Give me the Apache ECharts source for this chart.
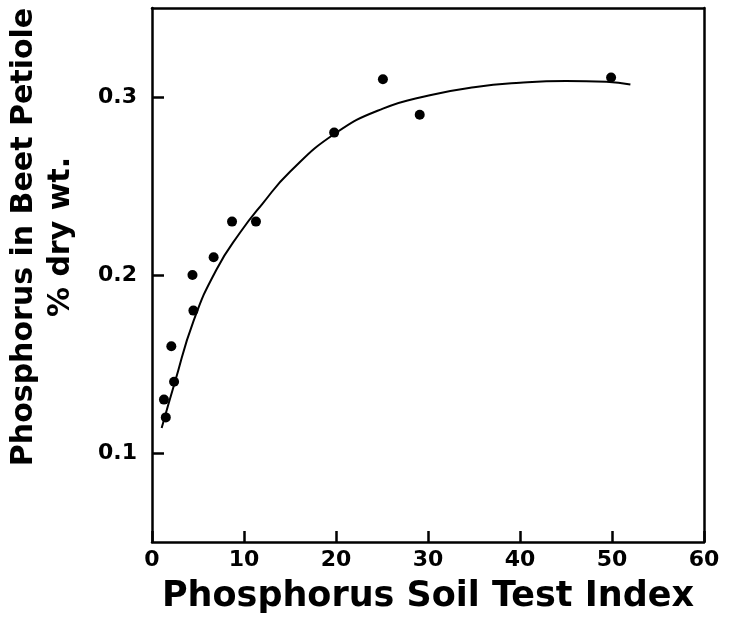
<!DOCTYPE html>
<html>
<head>
<meta charset="utf-8">
<script src="https://cdn.jsdelivr.net/npm/echarts@6/dist/echarts.min.js"></script>
<style>
html,body{margin:0;padding:0;background:#fff;}
#chart{width:741px;height:624px;}
</style>
</head>
<body>
<div id="chart"></div>
<script>
// Observed points
var pointX = [1.3, 1.5, 2.1, 2.4, 4.4, 4.5, 6.7, 8.7, 11.3, 19.8, 25.1, 29.1, 49.9];
var pointY = [0.130, 0.120, 0.160, 0.140, 0.200, 0.180, 0.210, 0.230, 0.230, 0.280, 0.310, 0.290, 0.311];
// Fitted curve
var curveX = [1.05, 2.5, 4.5, 7.0, 9.6, 12.0, 15.0, 19.9, 25.1, 30.2, 35.0, 40.0, 45.0, 49.4, 52.0];
var curveY = [0.114, 0.140, 0.174, 0.203, 0.224, 0.240, 0.258, 0.2795, 0.2935, 0.301, 0.3055, 0.308, 0.309, 0.3085, 0.307];
var xTicks = [0, 10, 20, 30, 40, 50, 60];
var yTicks = [0.1, 0.2, 0.3];
var xTitle = 'Phosphorus Soil Test Index';
var yTitle1 = 'Phosphorus in Beet Petiole';
var yTitle2 = '% dry wt.';

var chart = echarts.init(document.getElementById('chart'));
var font = 'DejaVu Sans';
var lineBlack = {show: true, onZero: false, lineStyle: {color: '#000', width: 2.5}};
chart.setOption({
  animation: false,
  backgroundColor: '#fff',
  grid: {left: 152, right: 37, top: 8, bottom: 82},
  xAxis: [{
    type: 'value', min: 0, max: 60, interval: 10,
    splitLine: {show: false},
    axisLine: lineBlack,
    axisTick: {show: true, inside: true, length: 11, lineStyle: {color: '#000', width: 2.5}},
    axisLabel: {color: '#000', fontFamily: font, fontWeight: 'bold', fontSize: 22, margin: 7,
      formatter: function(v){ return String(v); }},
    name: xTitle, nameLocation: 'middle', nameGap: 37,
    nameTextStyle: {color: '#000', fontFamily: font, fontWeight: 'bold', fontSize: 35}
  }, {
    type: 'value', position: 'top', min: 0, max: 60, interval: 10,
    splitLine: {show: false}, axisLine: lineBlack, axisTick: {show: false}, axisLabel: {show: false}
  }],
  yAxis: [{
    type: 'value', min: 0.05, max: 0.35, interval: 0.05,
    splitLine: {show: false},
    axisLine: lineBlack,
    axisTick: {show: true, inside: true, length: 12, lineStyle: {color: '#000', width: 2.5}, customValues: yTicks},
    axisLabel: {color: '#000', fontFamily: font, fontWeight: 'bold', fontSize: 22, margin: 15, customValues: yTicks,
      formatter: function(v){ return v.toFixed(1); }},
    name: '{a|' + yTitle1 + '}\n{b|' + yTitle2 + '}', nameLocation: 'middle', nameGap: 72, nameRotate: 90,
    nameTextStyle: {color: '#000', fontFamily: font, fontWeight: 'bold', padding: [0, 0, 0, 76],
      rich: {
        a: {fontFamily: font, fontWeight: 'bold', fontSize: 30, color: '#000', lineHeight: 37},
        b: {fontFamily: font, fontWeight: 'bold', fontSize: 30, color: '#000', lineHeight: 37}
      }}
  }, {
    type: 'value', position: 'right', min: 0.05, max: 0.35, interval: 0.05,
    splitLine: {show: false}, axisLine: lineBlack, axisTick: {show: false}, axisLabel: {show: false}
  }],
  series: [
    {
      type: 'line', smooth: 0.5, showSymbol: false, symbol: 'none',
      data: curveX.map(function(x, i){ return [x, curveY[i]]; }),
      lineStyle: {color: '#000', width: 2}
    },
    {
      type: 'scatter', symbol: 'circle', symbolSize: 10,
      data: pointX.map(function(x, i){ return [x, pointY[i]]; }),
      itemStyle: {color: '#000', opacity: 1}
    }
  ]
});
</script>
</body>
</html>
